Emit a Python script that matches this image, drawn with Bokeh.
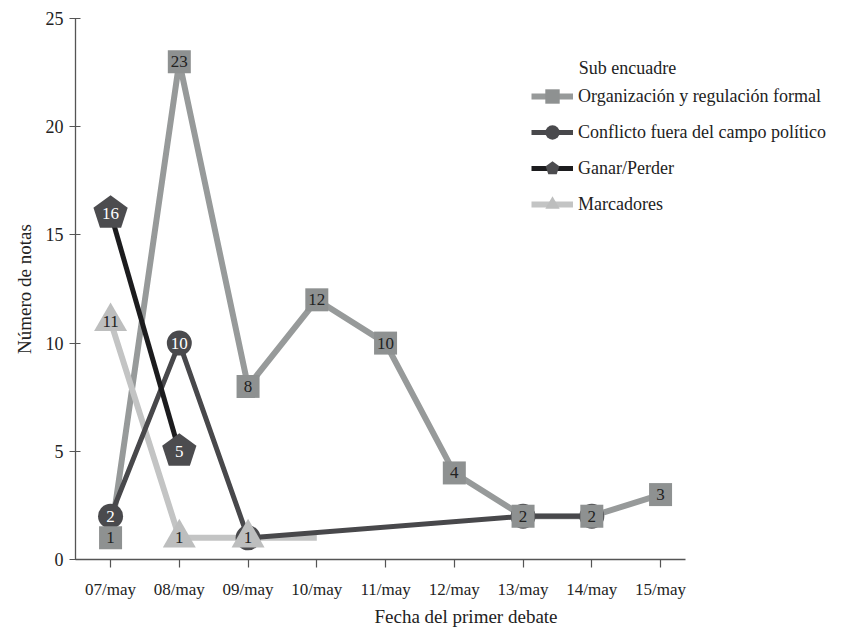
from bokeh.plotting import figure
from bokeh.models import FixedTicker, Range1d, Legend, LegendItem, Label
from bokeh.core.properties import value
from bokeh.embed import file_html
from bokeh.resources import INLINE

# ---------------- data ----------------
dates = ["07/may", "08/may", "09/may", "10/may", "11/may",
         "12/may", "13/may", "14/may", "15/may"]

org_dates = ["07/may", "08/may", "09/may", "10/may", "11/may",
             "12/may", "13/may", "14/may", "15/may"]
org_vals = [1, 23, 8, 12, 10, 4, 2, 2, 3]

conf_dates = ["07/may", "08/may", "09/may", "13/may", "14/may"]
conf_vals = [2, 10, 1, 2, 2]

gan_dates = ["07/may", "08/may"]
gan_vals = [16, 5]

marc_dates = ["07/may", "08/may", "09/may", "10/may"]
marc_vals = [11, 1, 1, 1]
marc_marked = 3  # points that carry a marker

y_ticks = [0, 5, 10, 15, 20, 25]

series_names = ["Organización y regulación formal",
                "Conflicto fuera del campo político",
                "Ganar/Perder",
                "Marcadores"]

FONT = "Liberation Serif"

def xi(ds):
    return [dates.index(d) for d in ds]

p = figure(width=856, height=629, output_backend="svg", toolbar_location=None,
           x_range=Range1d(-0.51, 10.85), y_range=Range1d(0, 25),
           min_border_left=75, min_border_top=18, min_border_right=0,
           min_border_bottom=66)
p.outline_line_color = None
p.xgrid.visible = False
p.ygrid.visible = False
p.background_fill_color = "white"

# axes
for ax in (p.xaxis[0], p.yaxis[0]):
    ax.axis_line_color = "#555555"
    ax.axis_line_width = 1.3
    ax.major_tick_line_color = "#555555"
    ax.major_tick_line_width = 1.2
    ax.minor_tick_line_color = None
    ax.major_label_text_font = FONT
    ax.major_label_text_font_size = "17px"
    ax.major_label_text_color = "#222222"
    ax.axis_label_text_font = FONT
    ax.axis_label_text_font_style = "normal"
    ax.axis_label_text_font_size = "19px"
    ax.axis_label_text_color = "#222222"

p.xaxis.ticker = FixedTicker(ticks=list(range(len(dates))))
p.xaxis.major_label_overrides = {i: d for i, d in enumerate(dates)}
p.xaxis.bounds = (-0.51, 8.36)
p.xaxis.major_tick_in = 0
p.xaxis.major_tick_out = 8
p.xaxis.major_label_standoff = 12
p.xaxis.axis_label = "Fecha del primer debate"
p.xaxis.axis_label_standoff = 4

p.yaxis.ticker = FixedTicker(ticks=y_ticks)
p.yaxis.bounds = (0, 25)
p.yaxis.major_tick_in = 5
p.yaxis.major_tick_out = 6
p.yaxis.major_label_standoff = 6
p.yaxis.major_label_text_font_size = "18px"
p.yaxis.axis_label = "Número de notas"
p.yaxis.axis_label_standoff = 8

# colours
ORG_LINE, ORG_MK = "#979a9a", "#8e9191"
CONF_LINE, CONF_MK = "#48484b", "#4a4a4d"
GAN_LINE, GAN_MK = "#1c1c1e", "#4c4c4f"
MARC_LINE, MARC_MK = "#c3c4c4", "#bdbebe"

# lines
org_line = p.line(xi(org_dates), org_vals, line_color=ORG_LINE, line_width=6)
marc_line = p.line(xi(marc_dates), marc_vals, line_color=MARC_LINE, line_width=6)
conf_line = p.line(xi(conf_dates), conf_vals, line_color=CONF_LINE, line_width=5)
gan_line = p.line(xi(gan_dates), gan_vals, line_color=GAN_LINE, line_width=5)

def labels(xs, ys, color):
    p.text(x=xs, y=ys, text=[str(v) for v in ys], text_align="center",
           text_baseline="middle", text_font=value(FONT),
           text_font_size="17px", text_color=color)

# conflicto markers
conf_mk = p.scatter(xi(conf_dates), conf_vals, marker="circle", size=25,
                    fill_color=CONF_MK, line_color=None)
labels(xi(conf_dates), conf_vals, "white")

# ganar/perder markers (pentagon, vertex up)
try:
    gan_mk = p.ngon(x=xi(gan_dates), y=gan_vals, radius=18,
                    radius_units="screen", n=5, angle=0,
                    fill_color=GAN_MK, line_color=None)
except Exception:
    gan_mk = p.scatter(xi(gan_dates), gan_vals, marker="hex", size=32,
                       fill_color=GAN_MK, line_color=None)
labels(xi(gan_dates), gan_vals, "white")

# marcadores markers
mx = xi(marc_dates)[:marc_marked]
my = marc_vals[:marc_marked]
marc_mk = p.scatter(mx, my, marker="triangle", size=33,
                    fill_color=MARC_MK, line_color=None)
labels(mx, my, "#222222")

# organizacion markers
org_mk = p.scatter(xi(org_dates), org_vals, marker="square", size=23,
                   fill_color=ORG_MK, line_color=None)
labels(xi(org_dates), org_vals, "#222222")

legend = Legend(items=[
    LegendItem(label=series_names[0], renderers=[org_line, org_mk]),
    LegendItem(label=series_names[1], renderers=[conf_line, conf_mk]),
    LegendItem(label=series_names[2], renderers=[gan_line, gan_mk]),
    LegendItem(label=series_names[3], renderers=[marc_line, marc_mk]),
], location=(456, 337))
legend.background_fill_alpha = 0
legend.border_line_color = None
legend.padding = 0
legend.margin = 0
legend.spacing = 0
legend.glyph_width = 42
legend.glyph_height = 36
legend.label_height = 36
legend.label_standoff = 5
legend.label_text_font = FONT
legend.label_text_font_size = "18px"
legend.label_text_color = "#222222"
p.add_layout(legend, "center")

p.add_layout(Label(x=6.81, y=22.7, text="Sub encuadre", text_font=FONT,
                   text_font_size="18px", text_color="#222222",
                   text_baseline="middle"))

open("out.html", "w").write(file_html(p, INLINE))
